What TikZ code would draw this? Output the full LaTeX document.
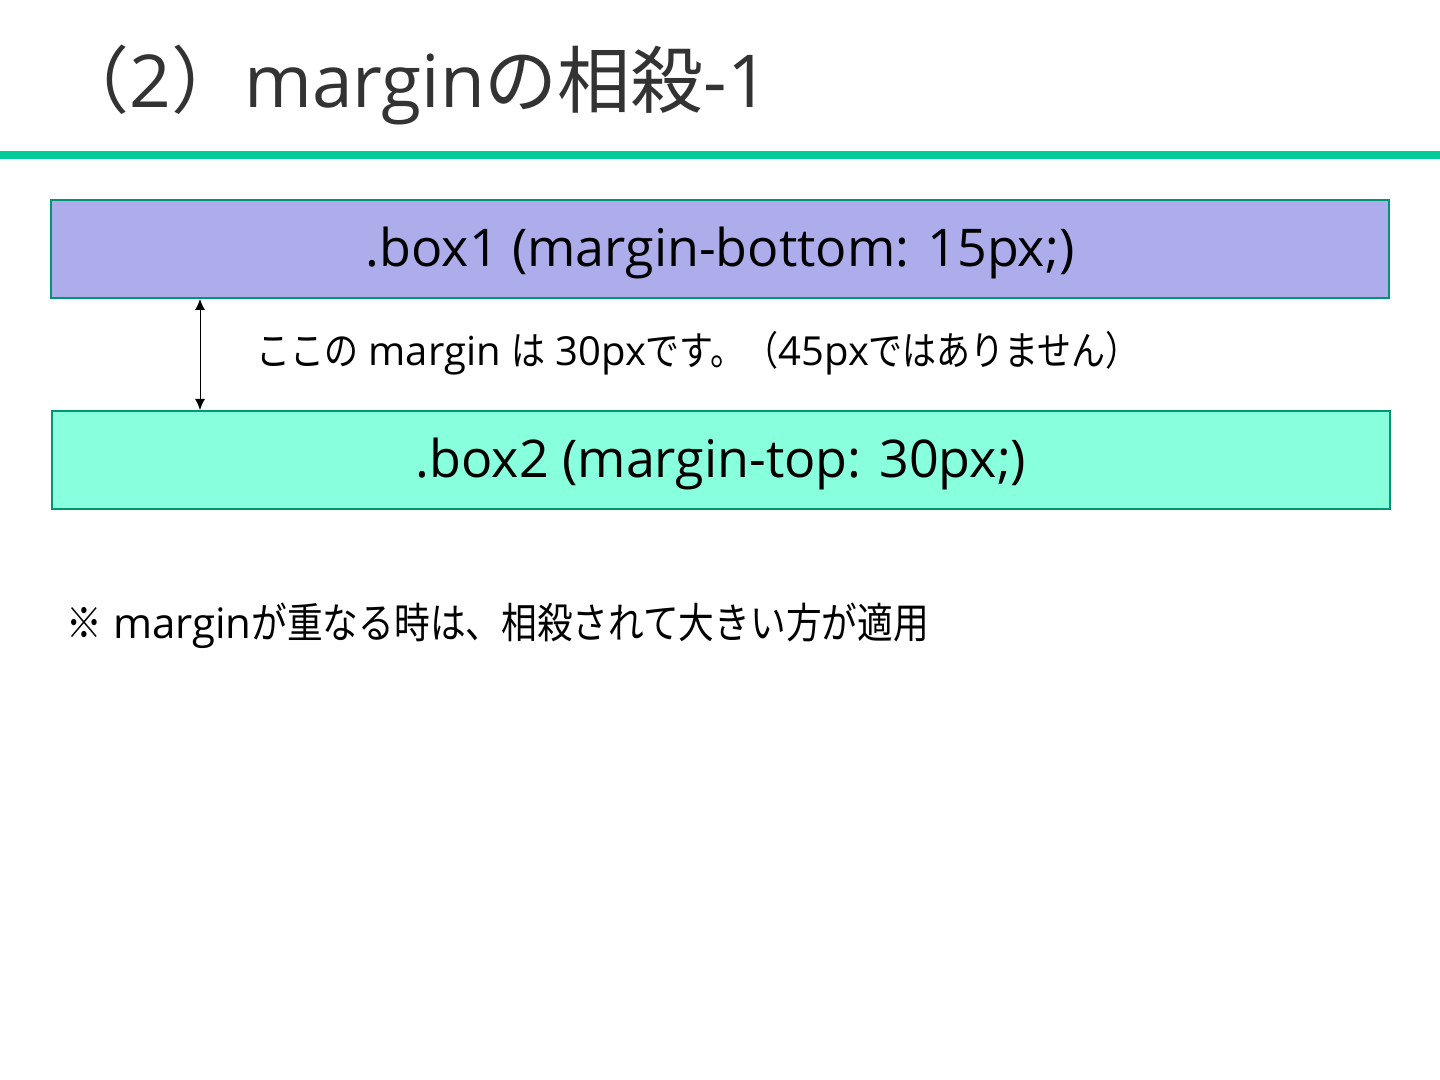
\documentclass[tikz,border=0pt]{standalone}
\usepackage{fontspec}
\setmainfont{Open Sans}
\newfontfamily\jp{Noto Sans CJK JP}[FakeStretch=0.85]
\newfontfamily\jptitle{Noto Sans CJK JP}
\usetikzlibrary{arrows.meta}
\definecolor{rulegreen}{RGB}{0,204,153}
\definecolor{boxedge}{RGB}{0,150,115}
\definecolor{boxone}{RGB}{173,173,235}
\definecolor{boxtwo}{RGB}{136,255,221}
\definecolor{titlegray}{RGB}{51,51,51}
\tikzset{ box/.style = { rectangle
                       , draw           = boxedge
                       , line width     = 1pt
                       , minimum width  = 669pt
                       , minimum height = 49pt
                       , inner sep      = 0pt
                       , text height    = 24pt
                       , text depth     = 6pt
                       , font           = \fontsize{26}{30}\selectfont
                       },
          note/.style = { anchor    = west
                        , inner sep = 0pt
                        , font      = \fontsize{20}{24}\selectfont
                        }
        }

\begin{document}
\begin{tikzpicture}[x=0.5pt, y=-0.5pt]
    \useasboundingbox (0,0) rectangle (1440,1080);
    \node[anchor=base west, inner sep=0pt, text=titlegray,
          font=\fontsize{36.5}{42}\selectfont] (title) at (56,108)
        {{\jptitle （}2{\jptitle ）}margin{\jptitle の相殺}-1};
    \draw[rulegreen, line width=4pt] (0,155.5) -- (1440,155.5);

    \node[box, fill=boxone] (box1) at (720,249) {.box1 (margin-bottom: 15px;)};
    \node[box, fill=boxtwo] (box2) at (721,460) {.box2 (margin-top: 30px;)};

    \coordinate (gap) at (200,0);
    \draw[{Latex[length=5.5pt,width=5pt]}-{Latex[length=5.5pt,width=5pt]}, line width=0.5pt]
        (box1.south -| gap) -- (box2.north -| gap);
    \node[note] (margin) at (256,353)
        {{\jp ここの} margin {\jp は} 30px{\jp です。（}45px{\jp ではありません）}};

    \node[note, font=\fontsize{21}{25}\selectfont] (rule) at (66,626)
        {{\jp ※} margin{\jp が重なる時は、相殺されて大きい方が適用}};
\end{tikzpicture}
\end{document}
